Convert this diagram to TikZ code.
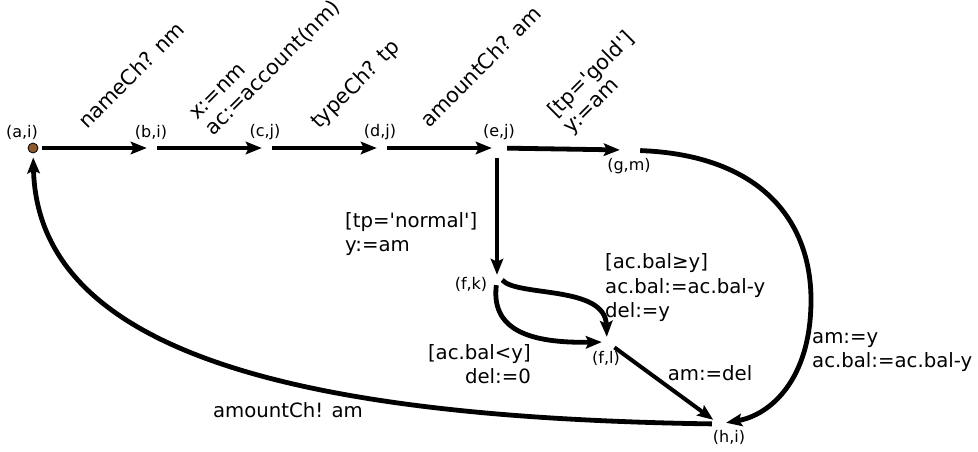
\documentclass[tikz,border=0pt]{standalone}
\usepackage{fontspec}
\setmainfont{DejaVu Sans}[Ligatures=TeXOff]
\usetikzlibrary{arrows.meta}
\definecolor{dotbrown}{RGB}{140,90,45}
\begin{document}
\begin{tikzpicture}[x=1pt,y=-1pt,
  conn/.style={line width=4.8pt, -{Stealth[length=16pt,width=12.5pt,inset=3pt]}},
  state/.style={circle, inner sep=0pt, minimum size=10pt},
  slab/.style={font=\fontsize{16}{19}\selectfont, inner sep=0pt},
  lab/.style={font=\fontsize{19.7}{23.5}\selectfont, inner sep=0pt},
  rlab/.style={font=\fontsize{20.8}{22.5}\selectfont, inner sep=0pt, rotate=45, align=left},
]
\useasboundingbox (0,0) rectangle (978,451);

% states
\node[state, draw=black, line width=0.8pt, fill=dotbrown] (a) at (33,148) {};
\node[state] (b) at (152,148) {};
\node[state] (c) at (267,148) {};
\node[state] (d) at (382,148) {};
\node[state] (e) at (497,148) {};
\node[state] (g) at (625,150) {};
\node[state] (fk) at (497,280) {};
\node[state] (fl) at (607,342) {};
\node[state, minimum size=14pt] (h) at (719,424) {};
\coordinate (gh) at (811,300);

% state labels
\node[slab] (la) at (22,132) {(a,i)};
\node[slab] (lb) at (151,132) {(b,i)};
\node[slab] (lc) at (265,132) {(c,j)};
\node[slab] (ld) at (380,132) {(d,j)};
\node[slab] (le) at (499,132) {(e,j)};
\node[slab] (lg) at (629,166) {(g,m)};
\node[slab] (lfk) at (471,284) {(f,k)};
\node[slab] (lfl) at (606,358) {(f,l)};
\node[slab] (lh) at (729,437) {(h,i)};

% connectors
\draw[conn, shorten <=4pt] (a) -- (b);
\draw[conn] (b) -- (c);
\draw[conn] (c) -- (d);
\draw[conn] (d) -- (e);
\draw[conn, shorten <=5pt] (e) -- (g);
\draw[conn, shorten <=5pt] (e) -- (fk);
\draw[conn, shorten <=10pt] (g) .. controls (760,155) and (811,220) .. (gh)
      .. controls (811,380) and (770,415) .. (h);
\draw[conn] (fk.east) .. controls (517,297) and (605,285) .. (fl);
\draw[conn] (fk) .. controls (490,335) and (540,343) .. (fl);
\draw[conn, line width=4pt, shorten <=4pt] (fl) -- (h);
\draw[conn, shorten >=4pt] (h) .. controls (320,418) and (38,360) .. (a);

% transition labels
\node[rlab, anchor=base west] at (87,130) {nameCh? nm};
\node[rlab, anchor=south west] at (215,139) {x:=nm\\ac:=account(nm)};
\node[rlab, anchor=base west] at (319,130) {typeCh? tp};
\node[rlab, anchor=base west] at (429,129) {amountCh? am};
\node[rlab, anchor=south west] at (575,138) {[tp='gold']\\y:=am};
\node[lab, align=left, anchor=west] at (345,234) {[tp='normal']\\y:=am};
\node[lab, align=left, anchor=west, font=\fontsize{19.7}{24.5}\selectfont] at (605,288) {[ac.bal≥y]\\ac.bal:=ac.bal-y\\del:=y};
\node[lab, align=right, anchor=east] at (531,364) {[ac.bal<y]\\del:=0};
\node[lab, align=left, anchor=west] at (812,352) {am:=y\\ac.bal:=ac.bal-y};
\node[lab] at (710,373) {am:=del};
\node[lab] at (288,410) {amountCh! am};
\end{tikzpicture}
\end{document}
